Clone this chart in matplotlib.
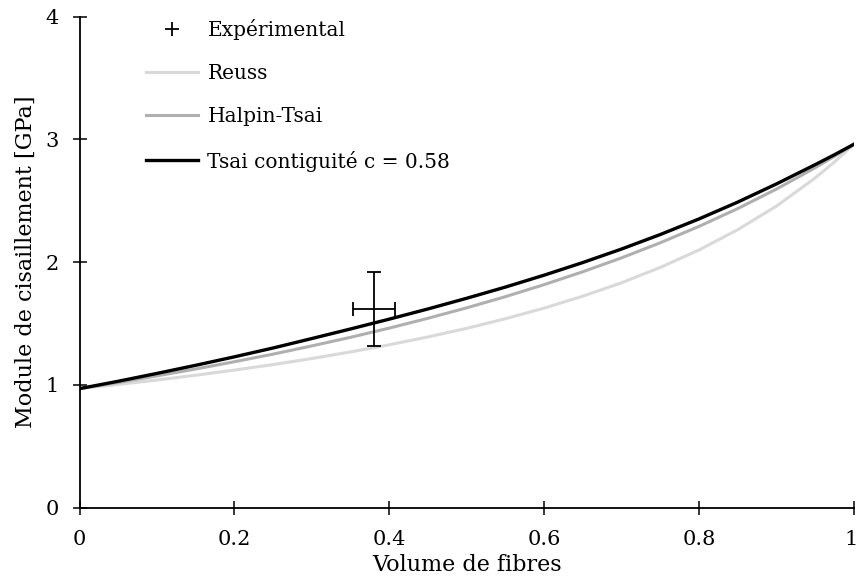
import numpy as np
import matplotlib
matplotlib.use("Agg")
import matplotlib.pyplot as plt
from matplotlib.lines import Line2D
from matplotlib.transforms import ScaledTranslation

plt.rcParams.update({"font.family": "DejaVu Serif", "font.size": 14})

# values
vf = [0, 0.05, 0.1, 0.15, 0.2, 0.25, 0.3, 0.35, 0.4, 0.45, 0.5,
      0.55, 0.6, 0.65, 0.7, 0.75, 0.8, 0.85, 0.9, 0.95, 0.975, 1]
reuss = [0.97, 1.004, 1.04, 1.079, 1.121, 1.166, 1.215, 1.269, 1.327, 1.391, 1.461,
         1.539, 1.626, 1.723, 1.832, 1.957, 2.099, 2.264, 2.456, 2.685, 2.816, 2.96]
halpin = [0.97, 1.020, 1.074, 1.130, 1.189, 1.251, 1.318, 1.388, 1.463, 1.543, 1.628,
          1.719, 1.817, 1.922, 2.035, 2.158, 2.291, 2.436, 2.595, 2.769, 2.862, 2.96]
tsai = [0.97, 1.030, 1.094, 1.160, 1.229, 1.301, 1.378, 1.456, 1.536, 1.619, 1.706,
        1.797, 1.894, 1.997, 2.107, 2.225, 2.352, 2.489, 2.637, 2.794, 2.875, 2.96]
exp_x, exp_y = [0.38], [1.62]
exp_xerr, exp_yerr = [0.027], [0.30]

LIGHT, MID, INK = "#d9d9d9", "#afafaf", "#000000"

fig = plt.figure(figsize=(8.58, 5.83), dpi=100)
ax = fig.add_axes([79.5/858, 1-507.7/583, (853.7-79.5)/858, (507.7-16.7)/583])

ax.plot(vf, reuss, color=LIGHT, lw=2.2, label="Reuss")
ax.plot(vf, halpin, color=MID, lw=2.2, label="Halpin-Tsai")
ax.plot(vf, tsai, color=INK, lw=2.4, label="Tsai contiguité c = 0.58")
ax.errorbar(exp_x, exp_y, xerr=exp_xerr, yerr=exp_yerr, fmt="none",
            ecolor=INK, elinewidth=1.3, capsize=5, capthick=1.3)

ax.set_xlim(0, 1); ax.set_ylim(0, 4)
ax.set_xticks([0, 0.2, 0.4, 0.6, 0.8, 1])
ax.set_xticklabels(["0", "0.2", "0.4", "0.6", "0.8", "1"])
ax.set_yticks([0, 1, 2, 3, 4])
ax.tick_params(direction="inout", length=10, width=1.1, labelsize=15)
ax.tick_params(axis="x", pad=11)
ax.tick_params(axis="y", pad=10)
# keep the last x label inside the canvas
last = ax.get_xticklabels()[-1]
last.set_transform(last.get_transform() + ScaledTranslation(-3/100, 0, fig.dpi_scale_trans))
for sp in ("top", "right"): ax.spines[sp].set_visible(False)
for sp in ("left", "bottom"): ax.spines[sp].set_linewidth(1.3)
ax.set_xlabel("Volume de fibres", fontsize=16, labelpad=4)
ax.set_ylabel("Module de cisaillement [GPa]", fontsize=16, labelpad=6)

h, l = ax.get_legend_handles_labels()
plus = Line2D([], [], ls="none", marker="+", color=INK, ms=10, mew=1.3)
ax.legend([plus] + h, ["Expérimental"] + l, loc="upper left",
          bbox_to_anchor=(146/858, 1-19/583), bbox_transform=fig.transFigure,
          frameon=False, borderpad=0, borderaxespad=0, handlelength=2.6,
          handletextpad=0.45, labelspacing=1.2, fontsize=14.5)

fig.savefig("out.png", dpi=100)
